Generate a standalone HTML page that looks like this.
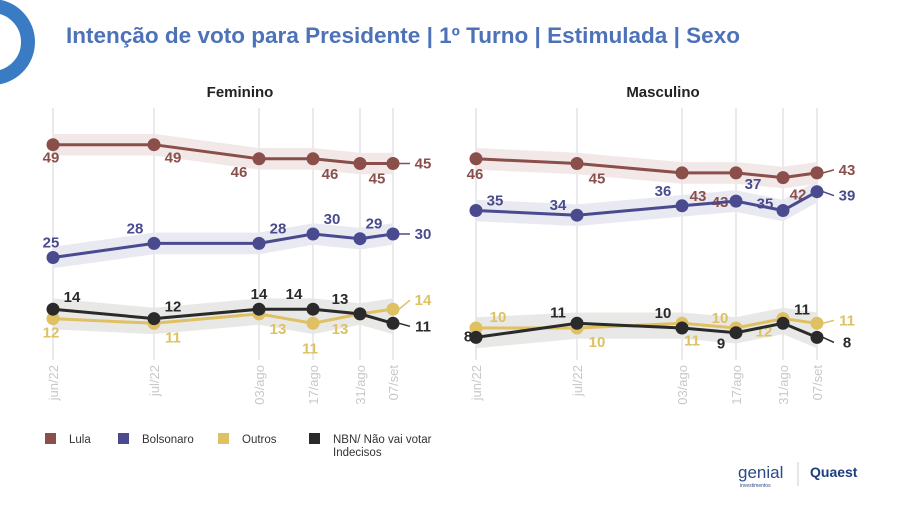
<!DOCTYPE html>
<html><head><meta charset="utf-8"><style>
body{margin:0;width:900px;height:501px;background:#fff;overflow:hidden;font-family:"Liberation Sans",sans-serif}
</style></head><body>
<svg id="c" width="900" height="501" xmlns="http://www.w3.org/2000/svg">
<circle cx="-8" cy="42" r="36" fill="none" stroke="#3a7cc4" stroke-width="14"/>
<text x="66" y="43" font-size="22" font-weight="bold" fill="#4d72b8" textLength="674" lengthAdjust="spacingAndGlyphs">Intenção de voto para Presidente | 1º Turno | Estimulada | Sexo</text>
<text x="240" y="97" font-size="15" font-weight="bold" fill="#222" text-anchor="middle">Feminino</text>
<text x="663" y="97" font-size="15" font-weight="bold" fill="#222" text-anchor="middle">Masculino</text>
<g id="legend"></g>
<text x="738" y="478" font-size="17" fill="#2a4a8a">genial</text>
<text x="740" y="487" font-size="5" fill="#2a4a8a">investimentos</text>
<line x1="798" y1="462" x2="798" y2="486" stroke="#ccc"/>
<text x="810" y="477" font-size="14" font-weight="bold" fill="#1c3c7c">Quaest</text>
</svg>
<script>
const dates=["jun/22","jul/22","03/ago","17/ago","31/ago","07/set"];
const femLula=[49,49,46,46,45,45];
const femBolso=[25,28,28,30,29,30];
const femOutros=[12,11,13,11,13,14];
const femNBN=[14,12,14,14,13,11];
const masLula=[46,45,43,43,42,43];
const masBolso=[35,34,36,37,35,39];
const masOutros=[10,10,11,10,12,11];
const masNBN=[8,11,10,9,11,8];
const seriesNames=["Lula","Bolsonaro","Outros","NBN/ Não vai votar Indecisos"];

const NS="http://www.w3.org/2000/svg";
const svg=document.getElementById('c');
function el(t,a,p){const e=document.createElementNS(NS,t);for(const k in a)e.setAttribute(k,a[k]);(p||svg).appendChild(e);return e;}
const y=v=>375-v*4.7;
const colors={lula:"#8a4f4b",bolso:"#4a4b8e",outros:"#dfc062",nbn:"#2a2a2a"};
const bands={lula:"#f1e6e6",bolso:"#e7e7f1",outros:"#f3ecd5",nbn:"#e6e6e4"};
const fx=[53,154,259,313,360,393], mx=[476,577,682,736,783,817];

const off={
 fLula:[[-2,18],[19,18],[-20,18],[17,20],[17,20]],
 fBolso:[[-2,-10],[-19,-10],[19,-10],[19,-10],[14,-10]],
 fNBN:[[19,-7],[19,-7],[0,-10],[-19,-10],[-20,-10]],
 fOutros:[[-2,19],[19,19],[19,20],[-3,30],[-20,20]],
 mLula:[[-1,20],[20,20],[16,28],[-16,34],[15,22]],
 mBolso:[[19,-5],[-19,-5],[-19,-10],[17,-12],[-18,-2]],
 mNBN:[[-8,4],[-19,-6],[-19,-10],[-15,16],[19,-9]],
 mOutros:[[22,-6],[20,19],[10,22],[-16,-5],[-19,18]]
};
const lastOff={fLula:[30,5],fBolso:[30,5],fNBN:[30,8],fOutros:[30,-4],mLula:[30,2],mBolso:[30,9],mNBN:[30,10],mOutros:[30,2]};

function panel(xs,key,data){
  xs.forEach((x,i)=>{
    const g=el('line',{x1:x,y1:108,x2:x,y2:360,stroke:'#e4e4e4','stroke-width':1.5});
    
    
    const t=el('text',{x:0,y:0,'font-size':13,fill:'#c8c8c8','text-anchor':'end',transform:`translate(${x+5},365) rotate(-90)`});
    t.textContent=dates[i];
    
    
  });
  const groups=[['lula',[data.lula]],['bolso',[data.bolso]],['nbn',[data.nbn,data.outros]]];
  groups.forEach(([k,arrs])=>{
    const hi=xs.map((x,i)=>Math.max(...arrs.map(a=>a[i]))+2.3), lo=xs.map((x,i)=>Math.min(...arrs.map(a=>a[i]))-2.3);
    let d='M'+xs.map((x,i)=>x+','+y(hi[i])).join('L')+'L'+xs.map((x,i)=>x+','+y(lo[i])).reverse().join('L')+'Z';
    const p=el('path',{d,fill:bands[k],opacity:0.9});
    
    
  });
  ['lula','bolso','outros','nbn'].forEach(k=>{
    const a=data[k];
    const p=el('polyline',{points:xs.map((x,i)=>x+','+y(a[i])).join(' '),fill:'none',stroke:colors[k],'stroke-width':3});
    
    
    const ok=key+(k==='nbn'?'NBN':k.charAt(0).toUpperCase()+k.slice(1));
    const O=off[ok], LO=lastOff[ok];
    a.forEach((v,i)=>{
      const c=el('circle',{cx:xs[i],cy:y(v),r:6.5,fill:colors[k]});
      
      
      let dx,dy;
      if(i===a.length-1){dx=LO[0];dy=LO[1];
        const l=el('line',{x1:xs[i]+6,y1:y(v),x2:xs[i]+17,y2:y(v)+LO[1]-5,stroke:colors[k],'stroke-width':1.5});
        
        
      } else {dx=O[i][0];dy=O[i][1];}
      const t=el('text',{x:xs[i]+dx,y:y(v)+dy,'font-size':15,'font-weight':'bold',fill:colors[k],'text-anchor':'middle'});
      t.textContent=v;
      
      
    });
  });
}
panel(fx,'f',{lula:femLula,bolso:femBolso,outros:femOutros,nbn:femNBN});
panel(mx,'m',{lula:masLula,bolso:masBolso,outros:masOutros,nbn:masNBN});

const lg=document.getElementById('legend');
const lx=[45,118,218,309], lc=[colors.lula,colors.bolso,colors.outros,colors.nbn];
seriesNames.forEach((n,i)=>{
  const r=el('rect',{x:lx[i],y:433,width:11,height:11,fill:lc[i]},lg);
  
  
  const t=el('text',{x:lx[i]+24,y:443,'font-size':11.5,fill:'#333'},lg);
  
  
  if(i===3){t.textContent='NBN/ Não vai votar';const t2=el('text',{x:lx[i]+24,y:456,'font-size':11.5,fill:'#333'},lg);t2.textContent='Indecisos';
    
    }
  else t.textContent=n;
});
</script>
</body></html>
